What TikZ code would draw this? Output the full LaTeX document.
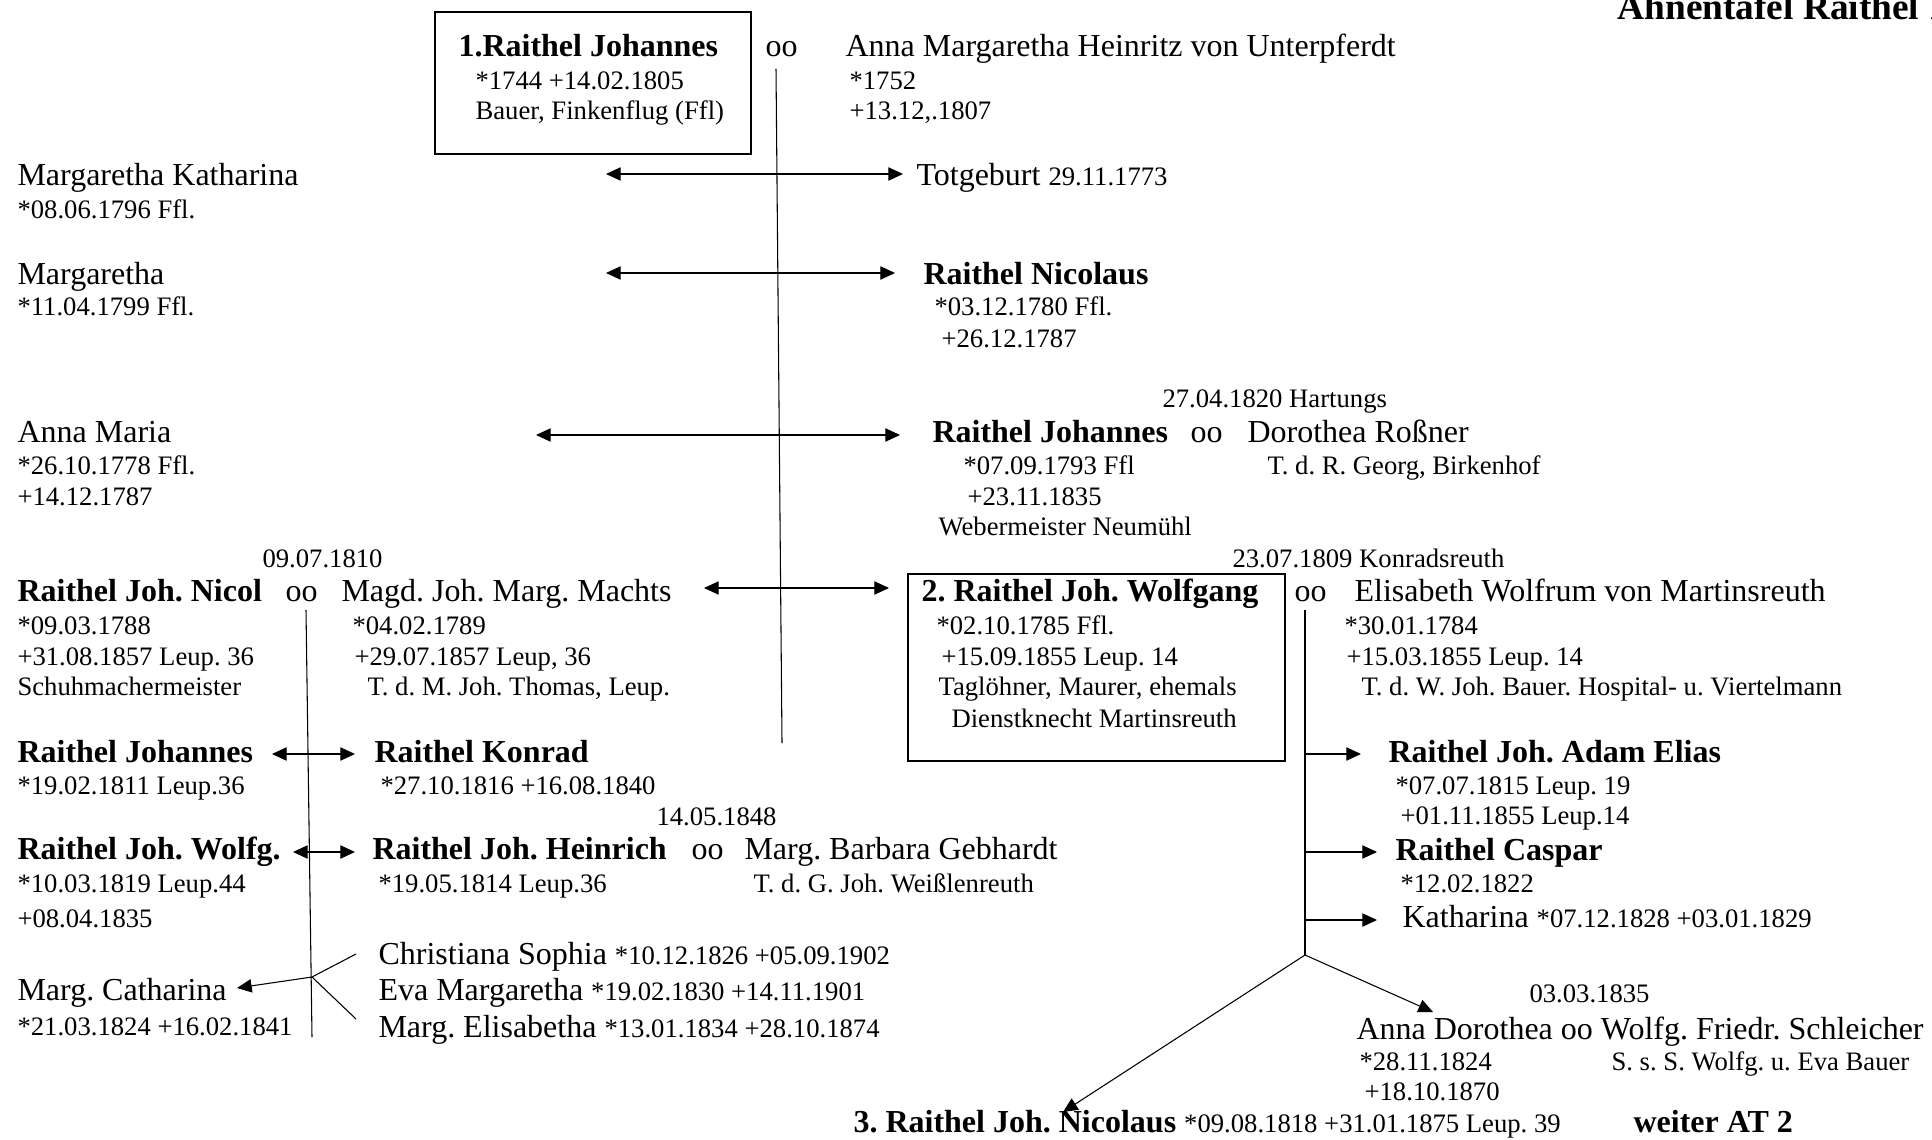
\documentclass[tikz,border=0pt]{standalone}
\usepackage{fontspec}
\setmainfont{Liberation Serif}
\usetikzlibrary{arrows.meta}
\newcommand{\klein}{\fontsize{10}{12}\selectfont}
\frenchspacing

\begin{document}
\begin{tikzpicture}[x=0.375pt,y=-0.375pt,
  txt/.style={anchor=base west,inner sep=0pt,yshift=-1pt,font=\fontsize{12}{14}\selectfont},
  nm/.style={txt,font=\fontsize{12}{14}\selectfont\bfseries},
  sm/.style={txt,font=\klein},
  ln/.style={line width=0.4pt},
  arr/.style={ln,-{Triangle[length=5.5pt,width=5pt]}},
  dbl/.style={ln,{Triangle[length=5.5pt,width=5pt]}-{Triangle[length=5.5pt,width=5pt]}}]
  \useasboundingbox (0,0) rectangle (1932,1140);
  \clip (0,0) rectangle (1932,1140);
  % Title
  \node[nm,font=\fontsize{14}{16}\selectfont\bfseries] (title) at (1617,17) {Ahnentafel Raithel 1};

  % Generation 1
  \draw[line width=0.75pt] (435,12) rectangle (751,154);
  \node[nm] (johI) at (458,54) {1.Raithel Johannes};
  \node[sm] (johIb) at (475,87) {*1744 +14.02.1805};
  \node[sm] (johIc) at (475,117) {Bauer, Finkenflug (Ffl)};
  \node[txt] (ooI) at (765,54) {oo};
  \node[txt] (annaMH) at (845,54) {Anna Margaretha Heinritz von Unterpferdt};
  \node[sm] (annaMHb) at (849,87) {*1752};
  \node[sm] (annaMHc) at (849,117) {+13.12,.1807};
  \coordinate (trunkItop) at (776,69);
  \coordinate (trunkIbot) at (782,743);
  \draw[ln] (trunkItop) -- (trunkIbot);

  % Children of generation 1
  \node[txt] (margKath) at (17,183) {Margaretha Katharina};
  \node[sm] (margKathb) at (17,216) {*08.06.1796 Ffl.};
  \node[txt] (totgeb) at (916,183) {Totgeburt {\klein 29.11.1773}};
  \coordinate (aL) at (606,174);
  \coordinate (aR) at (903,174);
  \draw[dbl] (aL) -- (aR);

  \node[txt] (marg) at (17,282) {Margaretha};
  \node[sm] (margb) at (17,313) {*11.04.1799 Ffl.};
  \node[nm] (nicolaus) at (923,282) {Raithel Nicolaus};
  \node[sm] (nicolausb) at (934,313) {*03.12.1780 Ffl.};
  \node[sm] (nicolausc) at (941,345) {+26.12.1787};
  \coordinate (bL) at (606,273);
  \coordinate (bR) at (895,273);
  \draw[dbl] (bL) -- (bR);

  \node[txt] (annaMaria) at (17,440) {Anna Maria};
  \node[sm] (annaMariab) at (17,472) {*26.10.1778 Ffl.};
  \node[sm] (annaMariac) at (17,503) {+14.12.1787};
  \node[sm] (hartungs) at (1162,405) {27.04.1820 Hartungs};
  \node[nm] (johII) at (932,440) {Raithel Johannes};
  \node[txt] (ooII) at (1190,440) {oo};
  \node[txt] (dorothea) at (1247,440) {Dorothea Roßner};
  \node[sm] (johIIb) at (963,472) {*07.09.1793 Ffl};
  \node[sm] (dorotheab) at (1267,472) {T. d. R. Georg, Birkenhof};
  \node[sm] (johIIc) at (967,503) {+23.11.1835};
  \node[sm] (johIId) at (938,533) {Webermeister Neumühl};
  \coordinate (cL) at (536,435);
  \coordinate (cR) at (900,435);
  \draw[dbl] (cL) -- (cR);

  % Raithel Joh. Nicol and wife
  \node[sm] (hochzN) at (262,565) {09.07.1810};
  \node[nm] (nicol) at (17,599) {Raithel Joh. Nicol};
  \node[txt] (ooN) at (285,599) {oo};
  \node[txt] (magd) at (341,599) {Magd. Joh. Marg. Machts};
  \node[sm] (nicolb) at (17,632) {*09.03.1788};
  \node[sm] (nicolc) at (17,663) {+31.08.1857 Leup. 36};
  \node[sm] (nicold) at (17,693) {Schuhmachermeister};
  \node[sm] (magdb) at (352,632) {*04.02.1789};
  \node[sm] (magdc) at (354,663) {+29.07.1857 Leup, 36};
  \node[sm] (magdd) at (367,693) {T. d. M. Joh. Thomas, Leup.};
  \coordinate (dL) at (704,588);
  \coordinate (dR) at (889,588);
  \draw[dbl] (dL) -- (dR);

  % Generation 2
  \draw[line width=0.75pt] (908,574) rectangle (1285,761);
  \node[nm] (wolfII) at (921,599) {2. Raithel Joh. Wolfgang};
  \node[sm] (wolfIIb) at (936,632) {*02.10.1785 Ffl.};
  \node[sm] (wolfIIc) at (941,663) {+15.09.1855 Leup. 14};
  \node[sm] (wolfIId) at (938,693) {Taglöhner, Maurer, ehemals};
  \node[sm] (wolfIIe) at (951,725) {Dienstknecht Martinsreuth};
  \node[sm] (hochzW) at (1232,565) {23.07.1809 Konradsreuth};
  \node[txt] (ooW) at (1294,599) {oo};
  \node[txt] (elis) at (1354,599) {Elisabeth Wolfrum von Martinsreuth};
  \node[sm] (elisb) at (1344,632) {*30.01.1784};
  \node[sm] (elisc) at (1346,663) {+15.03.1855 Leup. 14};
  \node[sm] (elisd) at (1361,693) {T. d. W. Joh. Bauer. Hospital- u. Viertelmann};

  % Children of Joh. Nicol
  \node[nm] (johN) at (17,760) {Raithel Johannes};
  \node[sm] (johNb) at (17,792) {*19.02.1811 Leup.36};
  \node[nm] (konrad) at (374,760) {Raithel Konrad};
  \node[sm] (konradb) at (380,792) {*27.10.1816 +16.08.1840};
  \coordinate (eL) at (272,754);
  \coordinate (eR) at (355,754);
  \draw[dbl] (eL) -- (eR);
  \node[sm] (hochzH) at (656,823) {14.05.1848};
  \node[nm] (wolfg) at (17,857) {Raithel Joh. Wolfg.};
  \node[sm] (wolfgb) at (17,890) {*10.03.1819 Leup.44};
  \node[sm] (wolfgc) at (17,925) {+08.04.1835};
  \node[nm] (heinrich) at (372,857) {Raithel Joh. Heinrich};
  \node[txt] (ooH) at (691,857) {oo};
  \node[txt] (barbara) at (744,857) {Marg. Barbara Gebhardt};
  \node[sm] (heinrichb) at (378,890) {*19.05.1814 Leup.36};
  \node[sm] (barbarab) at (753,890) {T. d. G. Joh. Weißlenreuth};
  \coordinate (fL) at (293,852);
  \coordinate (fR) at (355,852);
  \draw[dbl] (fL) -- (fR);
  \node[txt] (christ) at (378,962) {Christiana Sophia {\klein *10.12.1826 +05.09.1902}};
  \node[txt] (eva) at (378,998) {Eva Margaretha {\klein *19.02.1830 +14.11.1901}};
  \node[txt] (margEl) at (378,1035) {Marg. Elisabetha {\klein *13.01.1834 +28.10.1874}};
  \node[txt] (margCath) at (17,998) {Marg. Catharina};
  \node[sm] (margCathb) at (17,1033) {*21.03.1824 +16.02.1841};
  \coordinate (trunkNtop) at (306,610);
  \coordinate (trunkNbot) at (312,1037);
  \coordinate (splitN) at (312,977);
  \coordinate (toChrist) at (356,954);
  \coordinate (toMargEl) at (356,1019);
  \coordinate (toCath) at (237,988);
  \draw[ln] (trunkNtop) -- (trunkNbot);
  \draw[ln] (toChrist) -- (splitN) -- (toMargEl);
  \draw[arr] (splitN) -- (toCath);

  % Children of generation 2
  \coordinate (trunkWtop) at (1305,610);
  \coordinate (splitW) at (1305,955);
  \draw[ln] (trunkWtop) -- (splitW);
  \node[nm] (adam) at (1388,760) {Raithel Joh. Adam Elias};
  \node[sm] (adamb) at (1395,792) {*07.07.1815 Leup. 19};
  \node[sm] (adamc) at (1400,822) {+01.11.1855 Leup.14};
  \node[nm] (caspar) at (1395,858) {Raithel Caspar};
  \node[sm] (casparb) at (1400,890) {*12.02.1822};
  \node[txt] (kath) at (1402,925) {Katharina {\klein *07.12.1828 +03.01.1829}};
  \coordinate (gA) at (1305,754);
  \coordinate (gAe) at (1361,754);
  \coordinate (gC) at (1305,852);
  \coordinate (gCe) at (1377,852);
  \coordinate (gK) at (1305,920);
  \coordinate (gKe) at (1377,920);
  \draw[arr] (gA) -- (gAe);
  \draw[arr] (gC) -- (gCe);
  \draw[arr] (gK) -- (gKe);
  \node[sm] (hochzA) at (1529,1000) {03.03.1835};
  \node[txt] (annaDor) at (1356,1037) {Anna Dorothea oo Wolfg. Friedr. Schleicher};
  \node[sm] (annaDorb) at (1359,1068) {*28.11.1824};
  \node[sm] (schleicherb) at (1611,1068) {S. s. S. Wolfg. u. Eva Bauer};
  \node[sm] (annaDorc) at (1364,1098) {+18.10.1870};
  \coordinate (toAnnaDor) at (1433,1012);
  \coordinate (toNicIII) at (1063,1112);
  \draw[arr] (splitW) -- (toAnnaDor);
  \draw[arr] (splitW) -- (toNicIII);

  % Generation 3
  \node[nm] (nicIII) at (853,1130) {3. Raithel Joh. Nicolaus {\klein\mdseries *09.08.1818 +31.01.1875 Leup. 39}};
  \node[nm] (weiter) at (1633,1130) {weiter AT 2};
\end{tikzpicture}
\end{document}
